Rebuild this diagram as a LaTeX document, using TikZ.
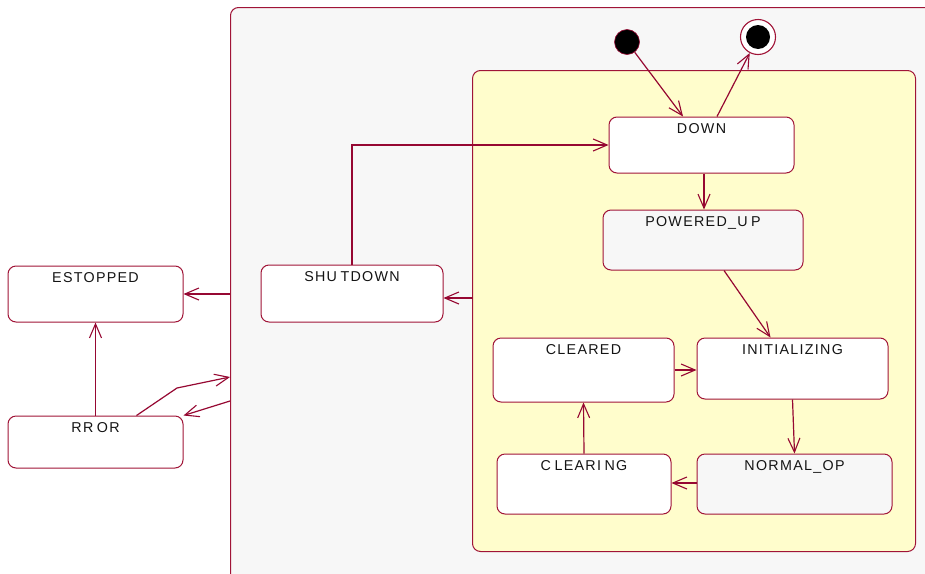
\documentclass[tikz,border=0pt]{standalone}
\usepackage{fontspec}
\newfontfamily\lblfont[LetterSpace=9]{Liberation Sans}
\usetikzlibrary{arrows.meta,calc}
\definecolor{edge}{RGB}{150,8,50}
\definecolor{bord}{RGB}{160,20,55}
\definecolor{outerfill}{RGB}{247,247,247}
\definecolor{yellowfill}{RGB}{255,253,204}
\definecolor{txt}{RGB}{20,20,20}
\newcommand{\gp}{\hspace*{3.5pt}}
\tikzset{
  state/.style={draw=bord, line width=1pt, rounded corners=8pt, fill=white, inner sep=0pt},
  grey/.style={fill=outerfill},
  lbl/.style={anchor=north, yshift=-3.5pt, text=txt, font=\lblfont\fontsize{14.3}{16}\selectfont},
  arr/.style={draw=edge, line width=1.2pt, -{Straight Barb[length=14pt,width=12pt,line width=1.1pt]}},
  plain/.style={draw=edge, line width=1.2pt}
}
\begin{document}
\begin{tikzpicture}[x=1pt,y=-1pt]
\useasboundingbox (0,0) rectangle (925,573);
\fill[white] (0,0) rectangle (925,573);
\begin{scope}
\clip (0,0) rectangle (925,573);
% outer composite state
\node[draw=bord, line width=1pt, rounded corners=8pt, fill=outerfill, inner sep=0pt,
      minimum width=720pt, minimum height=590pt, anchor=north west] (outer) at (230,7) {};
% inner yellow region
\node[draw=bord, line width=1pt, rounded corners=8pt, fill=yellowfill, inner sep=0pt,
      minimum width=443pt, minimum height=481pt, anchor=north west] (yellow) at (472,70) {};
\end{scope}

% initial and final
\node[circle, fill=black, draw=edge, line width=0.6pt, minimum size=25pt, inner sep=0pt] (init) at (627,42) {};
\node[circle, draw=bord, line width=1.1pt, fill=white, minimum size=35pt, inner sep=0pt] (final) at (758,37) {};
\node[circle, fill=black, minimum size=24pt, inner sep=0pt] (finalin) at (758,37) {};

% states
\node[state, minimum width=185pt, minimum height=56pt, label={[lbl]north:DOWN}] (down) at (701.5,145) {};
\node[state, grey, minimum width=200pt, minimum height=60pt, label={[lbl]north:{POWERED\_U\gp P}}] (pu) at (703,240) {};
\node[state, minimum width=181pt, minimum height=64pt, label={[lbl]north:CLEARED}] (cleared) at (583.5,370) {};
\node[state, minimum width=191pt, minimum height=61pt, label={[lbl]north:INITIALIZING}] (initz) at (792.5,368.5) {};
\node[state, minimum width=174pt, minimum height=60pt, label={[lbl]north:{C\gp LEARI\gp NG}}] (clearing) at (584,484) {};
\node[state, grey, minimum width=195pt, minimum height=60pt, label={[lbl]north:NORMAL\_OP}] (normal) at (794.5,484) {};
\node[state, minimum width=182pt, minimum height=57pt, label={[lbl]north:{SHU\gp TDOWN}}] (shut) at (352,293.5) {};
\node[state, minimum width=175pt, minimum height=56pt, label={[lbl]north:ESTOPPED}] (estop) at (95.5,294) {};
\node[state, minimum width=175pt, minimum height=52pt, label={[lbl]north:{RR\gp OR}}] (err) at (95.5,442) {};

% transitions
\draw[arr] (init) -- ($(down.north)+(-18.5,0)$);
\draw[arr] ($(down.north)+(15.5,0)$) -- (final);
\draw[plain] ($(final.south)+(-8,0)$) -- ($(final.south)+(-8,0)$ |- yellow.north);
\draw[arr] (shut.north) |- (down.west);
\draw[arr] ($(down.south)+(2.5,0)$) -- ($(pu.north)+(1,0)$);
\draw[arr] ($(pu.south)+(21,0)$) -- ($(initz.north)+(-22,0)$);
\draw[arr] (cleared.east) -- (cleared.east -| initz.west);
\draw[arr] (initz.south) -- (normal.north);
\draw[arr] ($(normal.west)+(0,-1)$) -- ($(clearing.east)+(0,-1)$);
\draw[arr] (clearing.north) -- (cleared.south);
\draw[arr] ($(shut.east)+(29,4.5)$) -- ($(shut.east)+(0,4.5)$);
\draw[arr] (outer.west |- estop.east) -- (estop.east);
\draw[arr] (err.north) -- (estop.south);
\coordinate (bend) at (177,388);
\draw[arr] ($(err.north)+(41,0)$) -- (bend) -- (outer.west |- 0,377);
\draw[arr] (outer.west |- 0,401) -- ($(err.north east)+(0,0)$);
\end{tikzpicture}
\end{document}
